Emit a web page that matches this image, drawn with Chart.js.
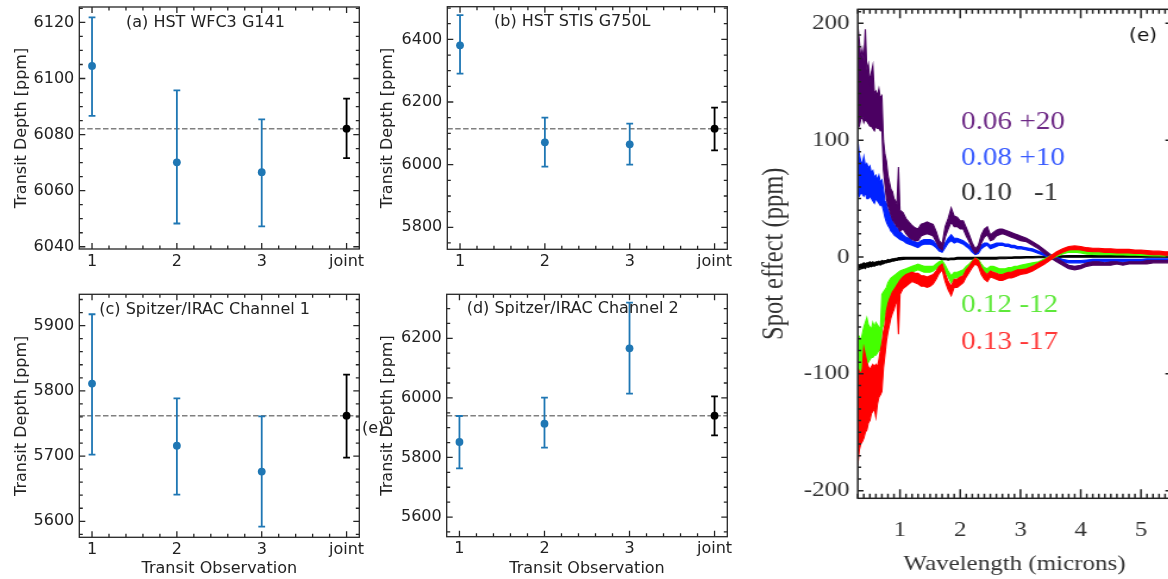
<!DOCTYPE html>
<html><head><meta charset="utf-8">
<script src="https://cdn.jsdelivr.net/npm/chart.js@4.4.1/dist/chart.umd.min.js"></script>
<style>
html,body{margin:0;padding:0;background:#fff;width:1168px;height:579px;overflow:hidden;position:relative}
canvas{position:absolute}
#ca{left:0;top:0}#cb{left:370px;top:0}#cc{left:0;top:280px}#cd{left:370px;top:280px}
#ce{left:760px;top:0;transform:scaleX(1.19);transform-origin:0 0}
#stray{position:absolute;left:362px;top:418px;font:16px 'DejaVu Sans';color:#222;line-height:20px}
</style></head><body>
<canvas id="ca" width="380" height="280"></canvas>
<canvas id="cb" width="380" height="280"></canvas>
<canvas id="cc" width="380" height="299"></canvas>
<canvas id="cd" width="380" height="299"></canvas>
<canvas id="ce" width="350" height="579"></canvas>
<div id="stray">(e)</div>
<script>
// ---------- panels (a)-(d): transit depth per observation ----------
const observations = ['1', '2', '3', 'joint'];

const depthA = [6104.5, 6070.1, 6066.6, 6082.1];
const errUpA = [17.3, 25.7, 18.8, 10.7];
const errLoA = [17.8, 21.8, 19.3, 10.5];

const depthB = [6380.9, 6071.3, 6064.9, 6114.9];
const errUpB = [96.7, 78.7, 66.0, 67.0];
const errLoB = [90.5, 77.7, 64.9, 69.0];

const depthC = [5811.1, 5716.0, 5676.2, 5762.0];
const errUpC = [106.3, 72.6, 84.8, 62.9];
const errLoC = [108.9, 75.0, 84.4, 64.4];

const depthD = [5851.9, 5913.4, 6166.4, 5940.3];
const errUpD = [87.3, 87.3, 153.4, 64.9];
const errLoD = [88.5, 80.6, 152.2, 66.1];

const panelTitles = ['(a) HST WFC3 G141', '(b) HST STIS G750L', '(c) Spitzer/IRAC Channel 1', '(d) Spitzer/IRAC Channel 2'];

// ---------- panel (e): spot effect spectra (upper / lower edge of each noisy band) ----------
const wavelength = [0.300,0.325,0.350,0.375,0.400,0.425,0.450,0.475,0.500,0.525,0.550,0.575,0.600,0.625,0.650,0.675,0.700,0.725,0.750,0.775,0.800,0.825,0.850,0.875,0.900,0.925,0.950,0.975,1.000,
1.05,1.10,1.15,1.20,1.25,1.30,1.35,1.40,1.45,1.50,1.55,1.60,1.65,1.70,1.75,1.80,1.85,1.90,1.95,2.00,2.05,2.10,2.15,2.20,2.25,2.30,2.35,2.40,2.45,2.50,2.55,2.60,2.65,2.70,2.75,2.80,2.85,2.90,2.95,3.00,
3.1,3.2,3.3,3.4,3.5,3.6,3.7,3.8,3.9,4.0,4.1,4.2,4.3,4.4,4.5,4.6,4.7,4.8,4.9,5.0,5.1,5.2,5.3,5.4,5.5];

const spot006Hi = [198,185,170,178,168,195,160,165,150,158,164,140,142,138,144,136,138,100,88,82,70,64,58,56,50,48,45,77,40,
38,33,30,27,25,24,28,29,30,29,28,22,14,11,26,33,42,35,34,31,31,25,19,12,7,10,19,24,26,19,21,23,24,24,23,22,21,20,19,18,
16,13,10,6,2,-1,-4,-7,-8,-7,-5,-4,-4,-5,-4,-4,-5,-4,-4,-4,-3,-3,-3,-3,-3];
const spot006Lo = [110,112,118,120,115,118,116,114,112,112,110,108,112,110,110,108,110,75,62,50,44,40,36,32,30,28,26,25,22,
24,20,17,15,14,14,18,19,20,19,18,13,8,6,17,24,30,26,26,24,24,18,13,7,3,5,12,17,19,14,15,18,19,20,19,18,17,16,15,14,
13,10,7,3,-1,-4,-7,-10,-11,-10,-8,-7,-7,-7,-7,-6,-7,-6,-6,-6,-6,-5,-5,-5,-5];

const spot008Hi = [100,88,82,80,86,78,80,76,78,72,74,68,70,66,70,64,66,58,48,46,40,38,34,32,28,27,25,24,22,
19,17,16,14,13,12,14,15,15,15,14,11,8,7,12,16,19,16,16,15,14,12,10,7,4,6,10,12,12,10,11,12,12,12,11,11,10,10,9,9,
8,7,5,3,1,-0.5,-2,-3,-3,-3,-2.5,-2,-2,-2,-2,-2,-2,-2,-2,-2,-1.5,-1.5,-1.5,-1.5,-1.5];
const spot008Lo = [55,52,55,54,52,55,50,50,52,50,48,46,50,48,46,44,45,40,34,30,27,25,22,21,19,18,17,16,15,
14,12,11,10,9,8,10,11,11,11,10,8,5,4,8,12,14,12,13,12,11,9,7,4,2,3,7,9,10,7,8,9,10,10,9,9,8,8,7,7,
6,5,3,1,-1,-2.5,-4,-5,-5,-5,-4.5,-4,-4,-4,-4,-4,-4,-4,-4,-4,-3.5,-3.5,-3.5,-3.5,-3.5];

const spot010Hi = [-6,-7,-6,-6,-5,-6,-5,-5,-4,-5,-4,-5,-4,-4,-3.5,-4,-3,-3.5,-3,-3,-2,-2.5,-2,-1.5,-1.5,-1,-1,-0.5,-0.5,
-0.3,-0.3,-0.3,-0.3,-0.3,-0.3,-0.3,-0.3,-0.3,-0.3,-0.3,-0.3,-0.3,-0.8,-0.8,-1,-0.8,-0.8,-0.3,-0.3,-0.3,-0.3,-0.3,-0.3,-0.3,-0.3,-0.3,-0.3,-0.3,-0.3,-0.3,-0.3,-0.1,-0.1,-0.1,0,0,0.2,0.2,0.2,
0.4,0.5,0.7,0.7,0.7,0.9,1.1,1.2,1.2,1.2,1.2,1.2,1.2,1.2,1.2,1.2,1.2,1.2,1.2,1.2,1.2,1.2,1.2,1.2,1.2];
const spot010Lo = [-10,-11,-10,-10,-9,-10,-8,-9,-8,-8.5,-7.5,-8,-7,-7,-6.5,-7,-6,-6,-5,-5,-4.5,-4.5,-4,-3.5,-3.5,-3,-3,-2.5,-2.5,
-2,-1.8,-1.8,-1.8,-1.8,-1.8,-1.8,-1.8,-1.8,-1.8,-1.8,-1.8,-1.8,-2.2,-2.2,-2.8,-2.2,-2.2,-1.8,-1.8,-1.8,-1.8,-1.8,-1.8,-1.8,-1.8,-1.8,-1.8,-1.8,-1.8,-1.8,-1.8,-1.5,-1.5,-1.5,-1.3,-1.3,-1.1,-1.1,-1.1,
-0.9,-0.8,-0.6,-0.6,-0.6,-0.4,-0.2,-0.1,-0.1,-0.1,-0.1,-0.1,-0.1,-0.1,-0.1,-0.1,-0.1,-0.1,-0.1,-0.1,-0.1,-0.1,-0.1,-0.1,-0.1];

const spot012Hi = [-70,-68,-72,-66,-60,-56,-52,-58,-60,-62,-56,-60,-56,-58,-60,-62,-32,-30,-28,-26,-22,-20,-18,-17,-16,-15,-14,-13,-12,
-11,-10,-9,-8,-7,-6,-7,-8,-8,-8,-8,-6,-4,-3,-7,-12,-16,-13,-13,-12,-11,-8,-6,-3,-1,-2,-6,-9,-10,-8,-8,-9,-10,-10,-10,-9,-9,-8,-8,-7,
-6,-5,-4,-1.5,1,3.5,5.5,7,7.2,6.5,5.5,5.2,5,5,5,4.8,4.8,4.5,4.5,4.3,4.2,4,3.9,3.8,3.8];
const spot012Lo = [-110,-108,-104,-100,-98,-95,-92,-90,-88,-86,-86,-84,-84,-82,-80,-80,-62,-58,-50,-46,-42,-38,-34,-32,-28,-26,-24,-22,-20,
-18,-16,-15,-13,-12,-11,-12,-13,-13,-13,-12,-10,-8,-7,-12,-17,-22,-18,-18,-16,-15,-12,-10,-7,-5,-6,-10,-13,-14,-12,-12,-13,-14,-14,-14,-13,-13,-12,-12,-11,
-10,-9,-7,-4.5,-2,0.5,2.5,4,4.2,3.5,2.5,2.2,2,2,2,1.8,1.8,1.5,1.5,1.3,1.2,1,0.9,0.8,0.8];

const spot013Hi = [-95,-98,-100,-96,-78,-84,-90,-94,-96,-94,-92,-94,-92,-94,-88,-80,-74,-64,-58,-46,-40,-36,-33,-30,-28,-26,-24,-22,-20,
-17,-15,-14,-13,-14,-14,-16,-16,-17,-16,-15,-12,-8,-6,-14,-21,-25,-19,-19,-17,-16,-11,-8,-4,-1,-3,-9,-13,-15,-12,-13,-14,-15,-15,-14,-13,-13,-12,-11,-11,
-10,-8,-5,-2.5,1,4.5,7,9,9.5,9,8,7.5,7.5,7,7,6.5,6.5,6.5,6,6,5.5,5,5,4.5,4.5];
const spot013Lo = [-178,-165,-160,-158,-155,-150,-148,-142,-140,-134,-132,-130,-137,-126,-120,-118,-115,-95,-84,-72,-64,-58,-52,-48,-45,-40,-38,-66,-32,
-27,-25,-23,-21,-22,-23,-25,-25,-26,-25,-23,-19,-14,-11,-21,-28,-33,-26,-26,-24,-22,-17,-13,-9,-6,-8,-15,-19,-21,-17,-18,-19,-20,-20,-19,-18,-18,-17,-16,-15,
-14,-12,-9,-6,-2.5,1.5,4,6,6.5,6,5,4.5,4.5,4,4,3.5,3.5,3.5,3,3,2.5,2,2,1.5,1.5];

const spotLabels = ['0.06 +20', '0.08 +10', '0.10   -1', '0.12 -12', '0.13 -17'];

// ---------- helpers ----------
Chart.defaults.font.family = 'DejaVu Sans';
function isMult(v, s) { const r = v / s; return Math.abs(r - Math.round(r)) < 1e-6; }
function noPad(s) { s.paddingTop = 0; s.paddingBottom = 0; s.paddingLeft = 0; s.paddingRight = 0; }

function framePlugin(o) {
  return {
    id: 'frame',
    afterDatasetsDraw(chart) {
      const {ctx, chartArea: a, scales: {x, y}} = chart;
      ctx.save();
      ctx.strokeStyle = o.color; ctx.lineWidth = o.lw;
      ctx.beginPath();
      x.ticks.forEach(t => {
        if (!isMult(t.value, o.xMinor)) return;
        const maj = isMult(t.value, o.xMajor);
        const len = maj ? o.xMajLen : o.xMinLen;
        const p = x.getPixelForValue(t.value);
        ctx.moveTo(p, a.bottom); ctx.lineTo(p, a.bottom - len);
        ctx.moveTo(p, a.top); ctx.lineTo(p, a.top + len);
      });
      y.ticks.forEach(t => {
        if (!isMult(t.value, o.yMinor)) return;
        const maj = isMult(t.value, o.yMajor);
        const len = maj ? o.yMajLen : o.yMinLen;
        const p = y.getPixelForValue(t.value);
        ctx.moveTo(a.left, p); ctx.lineTo(a.left + len, p);
        if (maj || o.rightMinor) { ctx.moveTo(a.right, p); ctx.lineTo(a.right - len, p); }
      });
      ctx.stroke();
      ctx.strokeRect(a.left, a.top, a.right - a.left, a.bottom - a.top);
      ctx.restore();
    }
  };
}

function errPlugin(p) {
  return {
    id: 'errbars',
    beforeDatasetsDraw(chart) {
      const {ctx, chartArea: a, scales: {x, y}} = chart;
      const n = p.vals.length;
      ctx.save();
      const yr = y.getPixelForValue(p.vals[n - 1]);
      ctx.setLineDash([5.5, 2.4]); ctx.strokeStyle = '#808080'; ctx.lineWidth = 1.5;
      ctx.beginPath(); ctx.moveTo(a.left, yr); ctx.lineTo(a.right, yr); ctx.stroke();
      ctx.setLineDash([]);
      ctx.lineWidth = 1.8;
      p.vals.forEach((v, i) => {
        const px = x.getPixelForValue(i);
        const y1 = y.getPixelForValue(v + p.up[i]);
        const y2 = y.getPixelForValue(v - p.lo[i]);
        ctx.strokeStyle = i === n - 1 ? '#000' : '#1f77b4';
        ctx.beginPath();
        ctx.moveTo(px, y1); ctx.lineTo(px, y2);
        ctx.moveTo(px - 3.4, y1); ctx.lineTo(px + 3.4, y1);
        ctx.moveTo(px - 3.4, y2); ctx.lineTo(px + 3.4, y2);
        ctx.stroke();
      });
      ctx.restore();
    },
    afterDraw(chart) {
      const ctx = chart.ctx;
      ctx.save();
      ctx.font = '16px "DejaVu Sans"'; ctx.fillStyle = '#222';
      ctx.textBaseline = 'middle'; ctx.textAlign = 'left';
      ctx.fillText(p.title, p.tx, p.ty);
      ctx.restore();
    }
  };
}

function panel(id, p) {
  const n = p.vals.length;
  new Chart(document.getElementById(id), {
    type: 'scatter',
    data: { datasets: [{
      data: p.vals.map((v, i) => ({x: i, y: v})),
      pointRadius: 3.9, pointHoverRadius: 3.9, pointBorderWidth: 0,
      pointBackgroundColor: p.vals.map((v, i) => i === n - 1 ? '#000' : '#1f77b4'),
      showLine: false
    }]},
    options: {
      responsive: false, animation: false, devicePixelRatio: 1, events: [],
      layout: { padding: { left: p.padL, top: p.top, right: p.padR, bottom: 0 } },
      plugins: { legend: { display: false }, tooltip: { enabled: false } },
      scales: {
        x: {
          type: 'linear', min: -0.15, max: 3.15,
          afterFit: s => { s.height = p.xh; noPad(s); },
          grid: { display: false, drawTicks: false }, border: { display: false },
          ticks: { stepSize: 0.2, includeBounds: false, autoSkip: false, maxRotation: 0, padding: 3, color: '#222',
            font: { size: 16 },
            callback: v => { const i = Math.round(v); return (isMult(v, 1) && i >= 0 && i < observations.length) ? observations[i] : ''; } },
          title: p.xTitle ? { display: true, text: 'Transit Observation', color: '#222', font: { size: 16 }, padding: { top: 0, bottom: 1 } } : { display: false }
        },
        y: {
          min: p.min, max: p.max,
          afterFit: s => { s.width = p.yw; noPad(s); },
          grid: { display: false, drawTicks: false }, border: { display: false },
          ticks: { stepSize: p.minor, includeBounds: false, autoSkip: false, padding: 5, color: '#222', font: { size: 16 },
            callback: v => isMult(v, p.major) ? String(Math.round(v)) : '' },
          title: { display: true, text: 'Transit Depth [ppm]', color: '#222', font: { size: 16 }, padding: { top: 4, bottom: 0 } }
        }
      }
    },
    plugins: [errPlugin(p), framePlugin({ color: '#262626', lw: 1.3, xMinor: 0.2, xMajor: 1, xMajLen: 6, xMinLen: 3.5,
      yMinor: p.minor, yMajor: p.major, yMajLen: 6, yMinLen: 3.5, rightMinor: true })]
  });
}

panel('ca', { vals: depthA, up: errUpA, lo: errLoA, min: 6039.2, max: 6125.5, minor: 5, major: 20,
  padL: 8, yw: 71.3, padR: 20.7, top: 7, xh: 31, xTitle: false, title: panelTitles[0], tx: 126, ty: 22.5 });
panel('cb', { vals: depthB, up: errUpB, lo: errLoB, min: 5729.8, max: 6504.3, minor: 50, major: 200,
  padL: 4.7, yw: 72.6, padR: 22.7, top: 6.7, xh: 30.7, xTitle: false, title: panelTitles[1], tx: 124, ty: 21.7 });
panel('cc', { vals: depthC, up: errUpC, lo: errLoC, min: 5575.5, max: 5948.0, minor: 20, major: 100,
  padL: 8, yw: 71.3, padR: 20.7, top: 14.3, xh: 41.7, xTitle: true, title: panelTitles[2], tx: 99.3, ty: 30 });
panel('cd', { vals: depthD, up: errUpD, lo: errLoD, min: 5534, max: 6347.8, minor: 50, major: 200,
  padL: 4.7, yw: 72, padR: 22.7, top: 14.3, xh: 42.3, xTitle: true, title: panelTitles[3], tx: 96.7, ty: 29.3 });

// ---------- panel (e) ----------
// first in the list is drawn on top
const spotSeries = [
  { hi: spot013Hi, lo: spot013Lo, color: '#ff0000' },
  { hi: spot012Hi, lo: spot012Lo, color: '#44ff00' },
  { hi: spot006Hi, lo: spot006Lo, color: '#4b0062' },
  { hi: spot008Hi, lo: spot008Lo, color: '#0022ff' },
  { hi: spot010Hi, lo: spot010Lo, color: '#000000' }
];
const labelColors = ['#6e2a86', '#3a5cff', '#333333', '#5ee83a', '#ff3838'];
const labelY = [122.5, 159, 194, 306, 342.5];

const spotDatasets = [];
spotSeries.forEach(s => {
  spotDatasets.push({ data: wavelength.map((w, i) => ({ x: w, y: s.hi[i] })), borderColor: s.color, backgroundColor: s.color,
    borderWidth: 1.1, pointRadius: 0, tension: 0, fill: '+1' });
  spotDatasets.push({ data: wavelength.map((w, i) => ({ x: w, y: s.lo[i] })), borderColor: s.color, backgroundColor: s.color,
    borderWidth: 1.1, pointRadius: 0, tension: 0, fill: false });
});

const serif = 'Liberation Serif';
new Chart(document.getElementById('ce'), {
  type: 'line',
  data: { datasets: spotDatasets },
  options: {
    responsive: false, animation: false, devicePixelRatio: 1, events: [],
    layout: { padding: { left: 0, top: 9.3, right: 4.54, bottom: 0 } },
    plugins: { legend: { display: false }, tooltip: { enabled: false } },
    scales: {
      x: {
        type: 'linear', min: 0.3, max: 5.5,
        afterFit: s => { s.height = 80.7; noPad(s); },
        grid: { display: false, drawTicks: false }, border: { display: false },
        ticks: { stepSize: 0.1, includeBounds: false, autoSkip: false, maxRotation: 0, padding: 20, color: '#333',
          font: { family: serif, size: 21 },
          callback: v => isMult(v, 1) ? String(Math.round(v)) : '' },
        title: { display: true, text: 'Wavelength (microns)', color: '#333', font: { family: serif, size: 21 }, padding: { top: 0, bottom: 2.4 } }
      },
      y: {
        min: -206.5, max: 212,
        afterFit: s => { s.width = 82.18; noPad(s); },
        grid: { display: false, drawTicks: false }, border: { display: false },
        ticks: { stepSize: 10, includeBounds: false, autoSkip: false, padding: 7, color: '#333',
          font: { family: serif, size: 21 },
          callback: v => isMult(v, 100) ? String(Math.round(v)) : '' },
        title: { display: true, text: 'Spot effect (ppm)', color: '#333', font: { family: serif, size: 24.5, lineHeight: 1 }, padding: { top: 0, bottom: 0 } }
      }
    }
  },
  plugins: [
    framePlugin({ color: '#222', lw: 1.5, xMinor: 0.1, xMajor: 1, xMajLen: 9, xMinLen: 4.5,
      yMinor: 10, yMajor: 100, yMajLen: 4.8, yMinLen: 2.8, rightMinor: false }),
    { id: 'etext', afterDraw(chart) {
      const ctx = chart.ctx;
      ctx.save();
      ctx.textBaseline = 'middle'; ctx.textAlign = 'left';
      ctx.font = '24.5px "Liberation Serif"';
      spotLabels.forEach((t, i) => { ctx.fillStyle = labelColors[i]; ctx.fillText(t, 168.9, labelY[i]); });
      ctx.font = '17px "DejaVu Sans"'; ctx.fillStyle = '#111';
      ctx.fillText('(e)', 310, 37);
      ctx.restore();
    } }
  ]
});
</script>
</body></html>
